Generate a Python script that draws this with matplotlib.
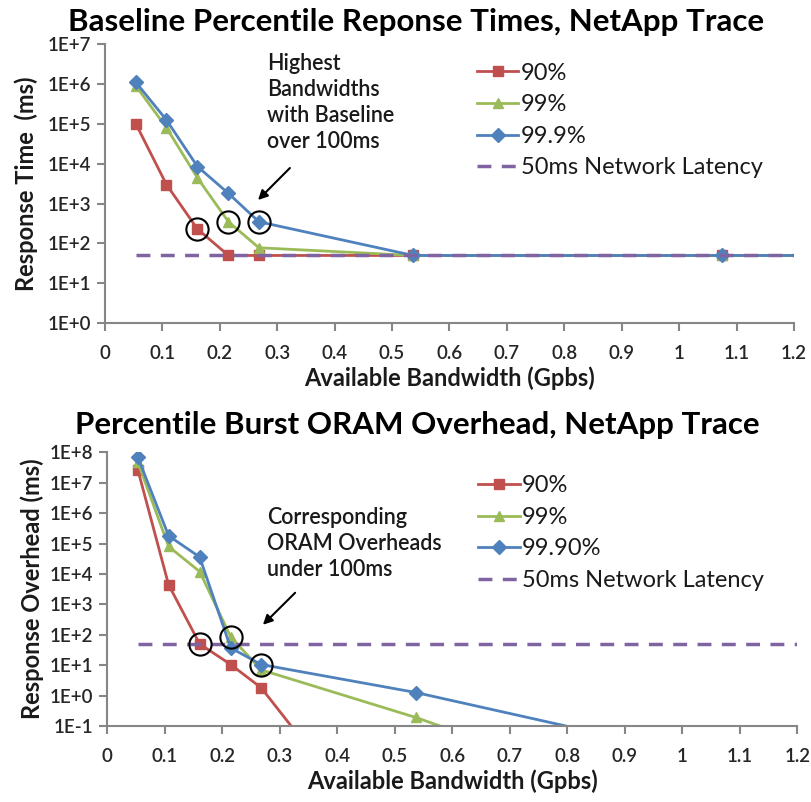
"""Percentile response times and ORAM overheads vs available bandwidth, NetApp trace"""

import math

import matplotlib
matplotlib.use("Agg")
import matplotlib.pyplot as plt
from matplotlib.ticker import FixedLocator, FuncFormatter, MultipleLocator

plt.rcParams["font.family"] = ["Lato", "DejaVu Sans"]

# bandwidths (Gpbs); the last point lies past the x limit, lines run off the edge
bw = [0.0537, 0.107, 0.161, 0.215, 0.268, 0.537, 1.074, 2.148]

# baseline response times (ms)
base_90 = [1.0e5, 3.0e3, 230, 50, 50, 50, 50, 50]
base_99 = [9.0e5, 8.0e4, 4.4e3, 350, 78, 50, 50, 50]
base_999 = [1.1e6, 1.25e5, 8.5e3, 1.8e3, 350, 50, 50, 50]

# burst ORAM response overhead (ms)
burst_bw = [0.0537, 0.107, 0.161, 0.215, 0.268, 0.537, 1.074]
burst_90 = [2.6e7, 4.4e3, 50, 10.5, 1.8, 6e-7, 1e-9]
burst_99 = [4.7e7, 8.0e4, 1.2e4, 85, 7.0, 0.19, 5e-5]
burst_999 = [6.8e7, 1.8e5, 3.6e4, 37, 10.5, 1.26, 6.8e-3]

latency_bw = [0.0537, 1.2]
latency = [50, 50]

labels_top = ["90%", "99%", "99.9%", "50ms Network Latency"]
labels_bot = ["90%", "99%", "99.90%", "50ms Network Latency"]

red = "#C0504D"
green = "#9BBB59"
blue = "#4F81BD"
purple = "#8064A2"
axis_gray = "#868686"
text_col = "#1a1a1a"


def style_axes(ax, ymin, ymax):
    ax.set_yscale("log")
    ax.set_xlim(0, 1.2)
    ax.set_ylim(10.0 ** ymin, 10.0 ** ymax)
    ax.xaxis.set_major_locator(MultipleLocator(0.1))
    ax.xaxis.set_major_formatter(FuncFormatter(lambda v, p: "0" if abs(v) < 1e-9 else f"{v:g}"))
    ax.yaxis.set_major_locator(FixedLocator([10.0 ** e for e in range(ymin, ymax + 1)]))
    ax.yaxis.set_minor_locator(FixedLocator([]))
    ax.yaxis.set_major_formatter(FuncFormatter(lambda v, p: f"1E{round(math.log10(v)):+d}"))
    for side in ["top", "right"]:
        ax.spines[side].set_visible(False)
    for side in ["left", "bottom"]:
        ax.spines[side].set_color(axis_gray)
        ax.spines[side].set_linewidth(1.5)
    ax.tick_params(axis="both", which="major", direction="out", length=6, width=1.5,
                   color=axis_gray, labelsize=13.5, labelcolor="#262626", pad=4)
    ax.tick_params(axis="x", pad=10)
    for t in ax.get_xticklabels() + ax.get_yticklabels():
        t.set_fontweight("semibold")
    ax.set_facecolor("none")


def draw_series(ax, x, s90, s99, s999):
    h1, = ax.plot(x, s90, color=red, lw=2, marker="s", ms=6.5)
    h2, = ax.plot(x, s99, color=green, lw=2, marker="^", ms=7.5)
    h3, = ax.plot(x, s999, color=blue, lw=2, marker="D", ms=7.5)
    h4, = ax.plot(latency_bw, latency, color=purple, lw=2.5, ls=(0, (4, 3)))
    return [h1, h2, h3, h4]


def add_legend(ax, handles, labels, anchor):
    ax.legend(handles, labels, loc="upper left", bbox_to_anchor=anchor, frameon=False,
              fontsize=17, handlelength=1.75, handletextpad=0.1, labelspacing=0.45,
              borderaxespad=0, borderpad=0, labelcolor=text_col)


fig = plt.figure(figsize=(8.11, 8.02), dpi=100)

# top chart
ax1 = fig.add_axes([0.1295, 0.597, 0.8495, 0.348])
style_axes(ax1, 0, 7)
hs = draw_series(ax1, bw, base_90, base_99, base_999)
ax1.plot([bw[2], bw[3], bw[4]], [base_90[2], base_99[3], base_999[4]], ls="none",
         marker="o", ms=16, mfc="none", mec="black", mew=1.5)
fig.text(0.513, 0.9726, "Baseline Percentile Reponse Times, NetApp Trace", fontsize=22.5,
         fontweight="bold", color="black", ha="center", va="center")
ax1.set_ylabel("Response Time  (ms)", fontsize=17, fontweight="bold", color=text_col, labelpad=7)
ax1.set_xlabel("Available Bandwidth (Gpbs)", fontsize=17, fontweight="bold", color=text_col, labelpad=3)
ax1.text(0.282, 6.0e6, "Highest\nBandwidths\nwith Baseline\nover 100ms", fontsize=15.5,
         fontweight="semibold", color=text_col, ha="left", va="top", linespacing=1.3)
ax1.annotate("", xy=(0.2665, 1230), xytext=(0.322, 7800),
             arrowprops=dict(arrowstyle="-|>", color="black", lw=1.5, shrinkA=0, shrinkB=0,
                             mutation_scale=14))
add_legend(ax1, hs, labels_top, (0.54, 0.934))

# bottom chart
ax2 = fig.add_axes([0.132, 0.0948, 0.851, 0.3412])
style_axes(ax2, -1, 8)
hs = draw_series(ax2, burst_bw, burst_90, burst_99, burst_999)
ax2.plot([burst_bw[2], burst_bw[3], burst_bw[4]], [burst_90[2], burst_99[3], burst_999[4]], ls="none",
         marker="o", ms=16, mfc="none", mec="black", mew=1.5)
fig.text(0.515, 0.47, "Percentile Burst ORAM Overhead, NetApp Trace", fontsize=22.5,
         fontweight="bold", color="black", ha="center", va="center")
ax2.set_ylabel("Response Overhead (ms)", fontsize=17, fontweight="bold", color=text_col, labelpad=4)
ax2.set_xlabel("Available Bandwidth (Gpbs)", fontsize=17, fontweight="bold", color=text_col, labelpad=3)
ax2.text(0.278, 1.6e6, "Corresponding\nORAM Overheads\nunder 100ms", fontsize=15.5,
         fontweight="semibold", color=text_col, ha="left", va="top", linespacing=1.3)
ax2.annotate("", xy=(0.271, 213), xytext=(0.327, 2400),
             arrowprops=dict(arrowstyle="-|>", color="black", lw=1.5, shrinkA=0, shrinkB=0,
                             mutation_scale=14))
add_legend(ax2, hs, labels_bot, (0.538, 0.9165))

fig.savefig("out.png", dpi=100)
